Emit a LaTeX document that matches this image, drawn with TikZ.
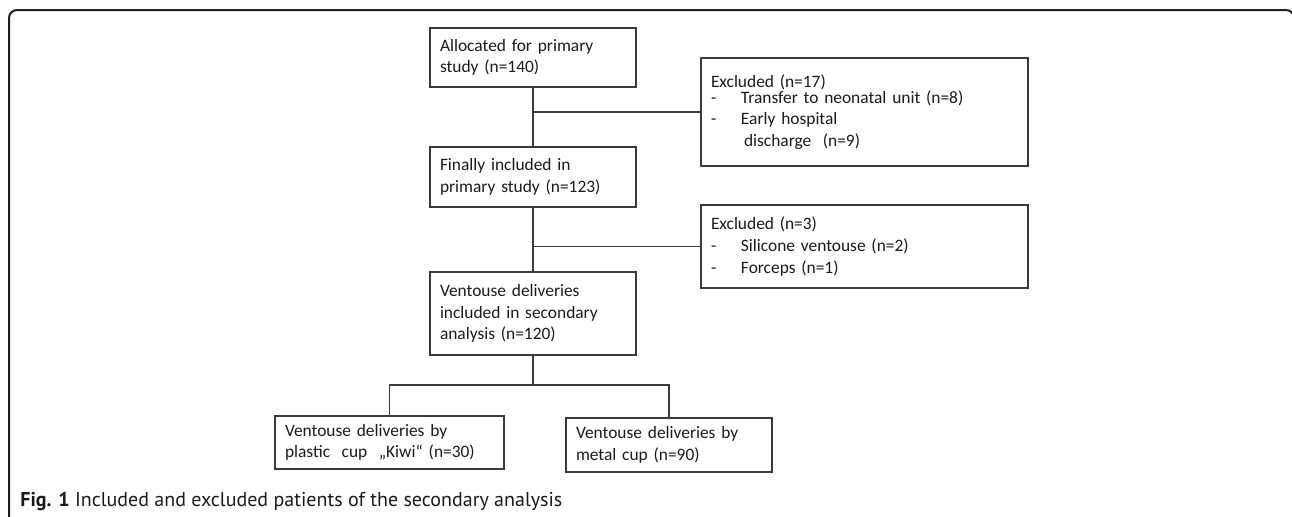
\documentclass[tikz,border=0pt]{standalone}
\usepackage{fontspec}
\setmainfont{Carlito}
\newfontfamily\capfont{PT Sans}
\definecolor{boxline}{HTML}{3A3A3A}
\definecolor{frameline}{HTML}{1E1E1E}
\definecolor{inktext}{HTML}{1A1A1A}

\begin{document}
\begin{tikzpicture}[x=0.5pt, y=-0.5pt,
	Box/.style={draw=boxline, line width=0.8pt, text=inktext, align=left, inner xsep=5pt, inner ysep=0pt, text width=#1, font=\fontsize{8.7}{10.8}\selectfont},
	Box/.default=93pt,
	Link/.style={draw=boxline, line width=0.8pt}]
		\useasboundingbox (0,0) rectangle (1292,516);
		% frame round the figure
		\draw[frameline, line width=1pt, rounded corners=4pt] (9,530) -- (9,10) -- (1294,10) -- (1294,530);
		% main column
		\node[Box, minimum height=29.5pt] (alloc) at (533,57.5) {Allocated for primary\\study (n=140)};
		\node[Box, minimum height=30pt] (fin) at (533,177) {Finally included in\\primary study (n=123)};
		\node[Box, minimum height=41.5pt] (vent) at (533,313.5) {Ventouse deliveries\\included in secondary\\analysis (n=120)};
		% excluded boxes
		\node[Box=153.5pt, minimum height=54pt] (excl1) at (864.5,112) {Excluded (n=17)\\[-3pt]
			\makebox[15pt][l]{-}Transfer to neonatal unit (n=8)\\
			\makebox[15pt][l]{-}Early hospital\\
			\hspace*{16.5pt}discharge\ \ (n=9)};
		\node[Box=153.5pt, minimum height=41.5pt] (excl2) at (864.5,246.5) {Excluded (n=3)\\
			\makebox[15pt][l]{-}Silicone ventouse (n=2)\\
			\makebox[15pt][l]{-}Forceps (n=1)};
		% cup groups
		\node[Box=104.5pt, minimum height=26.5pt] (kiwi) at (389.5,442.5) {Ventouse deliveries by\\plastic\ \ cup\ \ „Kiwi“ (n=30)};
		\node[Box, minimum height=27pt] (metal) at (669,445) {Ventouse deliveries by\\metal cup (n=90)};
		\coordinate (split) at (533,385);
		% connectors
		\draw[Link] (alloc) -- (fin);
		\draw[Link] (fin) -- (vent);
		\draw[Link] (excl1.west -| alloc.south) -- (excl1.west);
		\draw[Link] (excl2.west -| fin.south) -- (excl2.west);
		\draw[Link] (vent) -- (split);
		\draw[Link] (kiwi.north) |- (split) -| (metal.north);
		% caption
		\node[anchor=base west, inner sep=0pt, text=inktext, font=\capfont\fontsize{10}{12}\selectfont] (caption) at (20,506) {\textbf{Fig. 1} Included and excluded patients of the secondary analysis};
	\end{tikzpicture}
\end{document}
